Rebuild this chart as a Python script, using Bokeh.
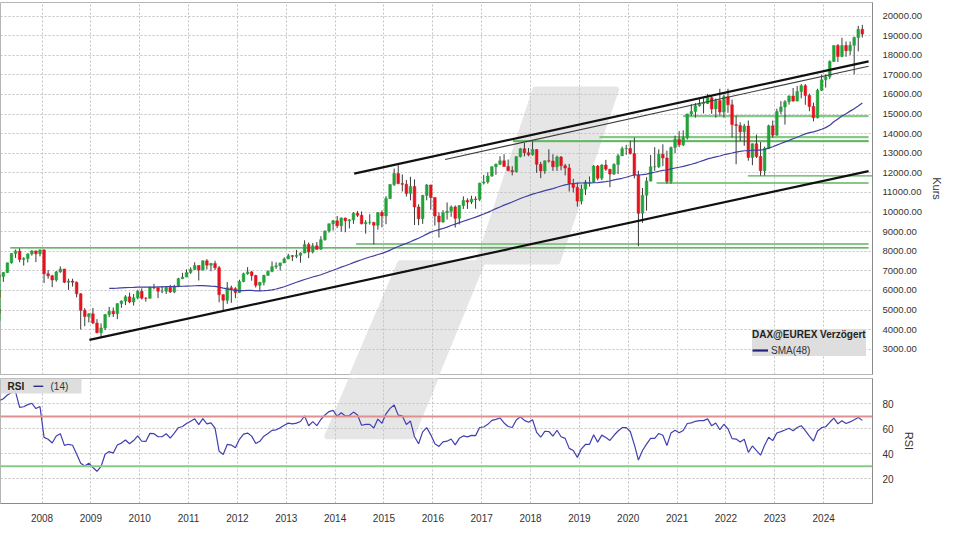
import numpy as np
import pandas as pd
from bokeh.plotting import figure
from bokeh.layouts import column
from bokeh.models import (Range1d, FixedTicker, PrintfTickFormatter, Span,
                          Legend, LegendItem, ColumnDataSource, Label,
                          BoxAnnotation)
from bokeh.embed import file_html
from bokeh.resources import INLINE

# ---------------- data (monthly DAX, from June 2005) ----------------
START_YEAR, START_MONTH = 2005, 6
FIRST_OPEN = 4460

close = [
    4587, 4886, 4829, 5044, 4929, 5193, 5408,
    5674, 5797, 5970, 6009, 5692, 5683, 5682, 5859, 6004, 6269, 6309, 6597,
    6789, 6715, 6917, 7409, 7883, 8007, 7584, 7638, 7862, 8019, 7871, 8067,
    6851, 6748, 6535, 6949, 7097, 6418, 6479, 6422, 5831, 4988, 4670, 4810,
    4338, 3844, 4085, 4770, 4941, 4809, 5332, 5458, 5675, 5414, 5626, 5957,
    5608, 5598, 6154, 6136, 5964, 5966, 6148, 5925, 6229, 6601, 6688, 6914,
    7077, 7272, 7041, 7514, 7294, 7376, 7159, 5785, 5502, 6141, 6089, 5898,
    6458, 6856, 6947, 6761, 6264, 6416, 6772, 6971, 7216, 7260, 7406, 7612,
    7776, 7741, 7795, 7914, 8349, 7959, 8276, 8103, 8594, 9033, 9406, 9552,
    9306, 9692, 9556, 9603, 9943, 9833, 9407, 9470, 9474, 9327, 9980, 9806,
    10694, 11402, 11966, 11454, 11413, 10945, 11309, 10259, 9660, 10850, 11382, 10743,
    9798, 9495, 9966, 10039, 10263, 9680, 10337, 10593, 10511, 10665, 10640, 11481,
    11535, 11834, 12313, 12438, 12615, 12325, 12118, 12056, 12829, 13230, 13024, 12918,
    13189, 12436, 12097, 12612, 12605, 12306, 12806, 12364, 12247, 11448, 11257, 10559,
    11173, 11516, 11526, 12344, 11727, 12399, 12189, 11939, 12428, 12867, 13236, 13249,
    12982, 11890, 9936, 10862, 11587, 12311, 12313, 12945, 12761, 11556, 13291, 13719,
    13433, 13786, 15008, 15136, 15421, 15531, 15544, 15835, 15261, 15688, 15100, 15885,
    15471, 14461, 14415, 14098, 14388, 12784, 13484, 12835, 12114, 13253, 14397, 13924,
    15128, 15365, 15629, 15922, 15664, 16148, 16447, 15947, 15387, 14810, 16215, 16752,
    16904, 17678, 18492, 17932, 18498, 18235, 18509, 18907, 19325, 19078,
]
high = [
    4640, 4900, 4960, 5080, 5140, 5230, 5460,
    5700, 5850, 6000, 6140, 6170, 5800, 5740, 5900, 6050, 6290, 6440, 6640,
    6810, 7040, 6950, 7420, 7900, 8090, 8150, 7700, 7900, 8060, 8040, 8100,
    8100, 7050, 6800, 7000, 7230, 7100, 6600, 6600, 6460, 5860, 5100, 4840,
    5110, 4540, 4320, 4800, 5160, 5130, 5340, 5500, 5760, 5890, 5820, 6030,
    6110, 5660, 6200, 6340, 6170, 6230, 6200, 6290, 6290, 6650, 6900, 7080,
    7180, 7440, 7280, 7530, 7600, 7410, 7520, 7250, 5800, 6430, 6250, 6170,
    6550, 6910, 7190, 7000, 6800, 6440, 6800, 7030, 7480, 7440, 7420, 7690,
    7870, 7810, 8070, 7950, 8560, 8450, 8420, 8470, 8770, 9070, 9410, 9600,
    9800, 9730, 9720, 9640, 10000, 10050, 10030, 9590, 9890, 9500, 10000, 10090,
    10810, 11420, 12220, 12390, 11920, 11640, 11800, 11670, 10400, 10880, 11430, 11400,
    10750, 9990, 10100, 10490, 10340, 10340, 10350, 10800, 10700, 10830, 10800, 11490,
    11890, 12030, 12330, 12480, 12850, 12950, 12680, 12340, 12830, 13270, 13530, 13270,
    13600, 13210, 12560, 12630, 13200, 12950, 12880, 12860, 12460, 12460, 11700, 11500,
    11400, 11630, 11820, 12400, 12400, 12440, 12660, 12200, 12490, 12960, 13340, 13430,
    13640, 13800, 12110, 11230, 11780, 12910, 13310, 13200, 13460, 13130, 13340, 13900,
    14130, 14170, 15010, 15500, 15560, 15800, 15810, 16030, 15950, 15790, 16290, 16000,
    16290, 15740, 14920, 14580, 14500, 14670, 13500, 13950, 13570, 13340, 14460, 14670,
    15270, 15660, 15710, 15950, 16330, 16430, 16530, 16530, 16040, 15580, 16290, 17000,
    17020, 17740, 18500, 18570, 18890, 18700, 18700, 18950, 19500, 19550,
]
low = [
    4420, 4560, 4740, 4800, 4800, 4900, 5180,
    5400, 5600, 5730, 5900, 5560, 5240, 5420, 5580, 5800, 5960, 6180, 6260,
    6540, 6620, 6440, 6900, 7370, 7660, 7440, 7270, 7430, 7780, 7450, 7740,
    6380, 6600, 6170, 6450, 6900, 6380, 6030, 6200, 5650, 4010, 4180, 4370,
    4290, 3820, 3590, 3980, 4640, 4650, 4540, 5120, 5260, 5350, 5230, 5550,
    5540, 5430, 5590, 6060, 5610, 5860, 5820, 5880, 5860, 6170, 6580, 6680,
    6850, 7050, 6510, 7020, 7070, 6980, 7040, 5400, 4970, 5320, 5370, 5610,
    5880, 6420, 6800, 6500, 6150, 5970, 6260, 6750, 6930, 7100, 7020, 7400,
    7600, 7500, 7650, 7420, 7900, 7650, 7890, 8070, 8080, 8540, 8950, 9060,
    9180, 9000, 8970, 9170, 9400, 9750, 9370, 8900, 9360, 8350, 9100, 9220,
    9380, 10660, 11330, 11420, 11050, 10790, 10600, 9340, 9330, 9400, 10600, 10120,
    9310, 8700, 9450, 9620, 9760, 9210, 9370, 10160, 10160, 10410, 10170, 10560,
    11410, 11450, 11800, 11900, 12400, 12320, 12080, 11870, 12020, 12790, 12840, 12850,
    12880, 12000, 11730, 11950, 12520, 12100, 12100, 12130, 11870, 11050, 11000, 10280,
    10390, 10870, 11300, 11500, 11620, 11630, 12100, 11270, 11890, 11940, 12860, 12920,
    12940, 11720, 8260, 9450, 10070, 11560, 12100, 12250, 12340, 11450, 11450, 13000,
    13310, 13370, 13700, 14900, 14820, 15380, 15030, 15510, 15010, 14820, 14930, 14820,
    15060, 13800, 12440, 13620, 13380, 12620, 12390, 12760, 11860, 11860, 13210, 13790,
    13900, 15000, 14460, 15480, 15630, 15650, 15800, 15470, 15140, 14630, 14780, 16170,
    16350, 16780, 17660, 17650, 17900, 17920, 18000, 17020, 18200, 18900,
]

year_ticks = list(range(2008, 2025))
price_ticks = list(range(3000, 20001, 1000))
rsi_ticks = [20, 40, 60, 80]
rsi_levels = [70, 30]
SMA_LEN, RSI_LEN = 48, 14

# drawn trend channel lines (year, price)
trend_x0 = [2008.97, 2014.39, 2016.25]
trend_y0 = [3479, 11958, 12684]
trend_x1 = [2024.92, 2024.92, 2024.92]
trend_y1 = [12091, 17689, 17442]

# horizontal support / resistance lines
hline_y = [8173, 8371, 13623, 13820, 14892, 11844, 11483]
hline_x0 = [2007.35, 2014.43, 2017.64, 2019.41, 2021.12, 2022.45, 2020.58]
hline_x1 = [2024.92, 2024.92, 2024.92, 2024.92, 2024.92, 2025.0, 2024.92]

# ---------------- derived ----------------
n = len(close)
t = np.array([START_YEAR + (START_MONTH - 1 + i + 0.5) / 12.0 for i in range(n)])
c = np.array(close, dtype=float)
o = np.concatenate([[FIRST_OPEN], c[:-1]])
h = np.maximum(np.array(high, dtype=float), np.maximum(o, c))
l = np.minimum(np.array(low, dtype=float), np.minimum(o, c))
up = c >= o
colors = np.where(up, "#22a33a", "#e3141e")

sma = pd.Series(c).rolling(SMA_LEN).mean().to_numpy()

d = np.diff(c)
gain = np.where(d > 0, d, 0.0)
loss = np.where(d < 0, -d, 0.0)
rsi = np.full(n, np.nan)
ag = gain[:RSI_LEN].mean()
al = loss[:RSI_LEN].mean()
rsi[RSI_LEN] = 100 - 100 / (1 + ag / al)
for i in range(RSI_LEN + 1, n):
    ag = (ag * (RSI_LEN - 1) + gain[i - 1]) / RSI_LEN
    al = (al * (RSI_LEN - 1) + loss[i - 1]) / RSI_LEN
    rsi[i] = 100 - 100 / (1 + ag / al)

candles = ColumnDataSource(dict(t=t, o=o, c=c, h=h, l=l,
                                top=np.maximum(o, c), bot=np.minimum(o, c),
                                color=colors))

FONT = "Liberation Sans"
TXT = "#333333"
GRID = "#c2c2c2"

x_range = Range1d(2007.15, 2025.0)

# ---------------- main price panel ----------------
p = figure(frame_width=872, frame_height=372, x_range=x_range,
           y_range=Range1d(1715, 20690), y_axis_location="right",
           output_backend="svg", toolbar_location=None,
           min_border_left=0, min_border_right=72, min_border_top=2,
           min_border_bottom=2, background_fill_color="white",
           outline_line_color="#b5b5b5")
p.xaxis.visible = False
p.xgrid.ticker = FixedTicker(ticks=year_ticks)
p.yaxis.ticker = FixedTicker(ticks=price_ticks)
p.yaxis.formatter = PrintfTickFormatter(format="%.2f")
for g in (p.xgrid, p.ygrid):
    g.grid_line_color = GRID
    g.grid_line_dash = "2 2"
ax = p.yaxis[0]
ax.axis_label = "Kurs"
ax.axis_label_text_font = FONT
ax.axis_label_text_font_size = "11px"
ax.axis_label_text_font_style = "normal"
ax.axis_label_text_color = TXT
ax.axis_label_standoff = 6
ax.major_label_text_font = FONT
ax.major_label_text_font_size = "9.5px"
ax.major_label_text_color = TXT
ax.major_label_standoff = 4
ax.axis_line_color = "#8a8a8a"
ax.major_tick_line_color = None
ax.minor_tick_line_color = None

# watermark logo
wm_main_x = [[2016.94, 2018.10, 2019.75, 2018.55], [2015.33, 2017.00, 2015.95, 2014.23]]
wm_main_y = [[7483, 16251, 16251, 7483], [7384, 7384, 980, 980]]
p.patches(wm_main_x, wm_main_y, fill_color="#e6e6e6", line_color="#e6e6e6",
          line_width=6, line_join="round", level="image")

p.segment(hline_x0[:1], hline_y[:1], hline_x1[:1], hline_y[:1],
          line_color="#3c9c3c", line_width=1.3)
p.segment(hline_x0[1:5] + hline_x0[6:], hline_y[1:5] + hline_y[6:],
          hline_x1[1:5] + hline_x1[6:], hline_y[1:5] + hline_y[6:],
          line_color="#86c986", line_width=2.2)
p.segment(hline_x0[2:3] + hline_x0[5:6], hline_y[2:3] + hline_y[5:6],
          hline_x1[2:3] + hline_x1[5:6], hline_y[2:3] + hline_y[5:6],
          line_color="#5aae5a", line_width=1.3)

p.segment("t", "h", "t", "l", source=candles, line_color="#3a3a3a", line_width=1)
p.vbar(x="t", width=0.055, top="top", bottom="bot", source=candles,
       fill_color="color", line_color="color", line_width=0.5)

sma_r = p.line(t, sma, line_color="#4040a0", line_width=1.2)
# legend key line (its points lie before the visible range)
sma_key = p.line(t[:2], c[:2], line_color="#23237a", line_width=2.2)

p.segment(trend_x0[:2], trend_y0[:2], trend_x1[:2], trend_y1[:2],
          line_color="#111111", line_width=2.2)
p.segment(trend_x0[2:], trend_y0[2:], trend_x1[2:], trend_y1[2:],
          line_color="#3c3c3c", line_width=1.1)

leg = Legend(items=[LegendItem(label="SMA(48)", renderers=[sma_key])],
             title="DAX@EUREX Verzögert", location=(752, 18))
leg.title_text_font = FONT
leg.title_text_font_size = "10px"
leg.title_text_font_style = "bold"
leg.title_text_color = "#222222"
leg.label_text_font = FONT
leg.label_text_font_size = "10px"
leg.label_text_color = TXT
leg.background_fill_color = "#dcdcdc"
leg.background_fill_alpha = 0.95
leg.border_line_color = None
leg.padding = 7
leg.spacing = 0
leg.glyph_width = 16
leg.glyph_height = 12
leg.label_height = 12
leg.label_standoff = 3
leg.title_standoff = 4
leg.margin = 0
p.add_layout(leg)

# ---------------- RSI panel ----------------
RSI_FH = 125
r = figure(frame_width=872, frame_height=RSI_FH, x_range=x_range,
           y_range=Range1d(0, 100.5), y_axis_location="right",
           output_backend="svg", toolbar_location=None,
           min_border_left=0, min_border_right=72, min_border_top=2,
           min_border_bottom=0, background_fill_color="white",
           outline_line_color="#b5b5b5")
r.xaxis.ticker = FixedTicker(ticks=year_ticks)
r.xaxis.formatter = PrintfTickFormatter(format="%d")
r.yaxis.ticker = FixedTicker(ticks=rsi_ticks)
r.xgrid.ticker = FixedTicker(ticks=year_ticks)
for g in (r.xgrid, r.ygrid):
    g.grid_line_color = GRID
    g.grid_line_dash = "2 2"
for a in (r.xaxis[0], r.yaxis[0]):
    a.major_label_text_font = FONT
    a.major_label_text_color = TXT
    a.axis_line_color = "#8a8a8a"
    a.major_tick_line_color = None
    a.minor_tick_line_color = None
    a.major_label_standoff = 4
r.xaxis[0].major_label_text_font_size = "10px"
r.yaxis[0].major_label_text_font_size = "10px"
ry = r.yaxis[0]
ry.axis_label = "RSI"
ry.axis_label_text_font = FONT
ry.axis_label_text_font_size = "11px"
ry.axis_label_text_font_style = "normal"
ry.axis_label_text_color = TXT
ry.axis_label_standoff = 6

wm_rsi_x = [[2014.40, 2016.11, 2015.56, 2013.84]]
wm_rsi_y = [[106, 106, 54, 54]]
r.patches(wm_rsi_x, wm_rsi_y, fill_color="#e6e6e6", line_color="#e6e6e6",
          line_width=6, line_join="round", level="image")

r.add_layout(Span(location=rsi_levels[0], dimension="width",
                  line_color="#e09090", line_width=2))
r.add_layout(Span(location=rsi_levels[1], dimension="width",
                  line_color="#86cc86", line_width=2))
rsi_r = r.line(t, rsi, line_color="#4040b0", line_width=1.2)

# RSI legend box (top-left corner of the panel)
r.add_layout(BoxAnnotation(left=0, right=81, top=RSI_FH, bottom=RSI_FH - 15,
                           left_units="screen", right_units="screen",
                           top_units="screen", bottom_units="screen",
                           fill_color="#dcdcdc", fill_alpha=0.95,
                           line_color=None, level="overlay"))
r.add_layout(Label(x=7, y=RSI_FH - 7.5, x_units="screen", y_units="screen",
                   text="RSI", text_font=FONT, text_font_size="10px",
                   text_font_style="bold", text_color="#222222",
                   text_baseline="middle", level="overlay"))
r.add_layout(Label(x=33, y=RSI_FH - 7.5, x_units="screen", y_units="screen",
                   text="━━", text_font="DejaVu Sans", text_font_size="8px",
                   text_color="#2a2a8a", text_baseline="middle", level="overlay"))
r.add_layout(Label(x=50, y=RSI_FH - 7.5, x_units="screen", y_units="screen",
                   text="(14)", text_font=FONT, text_font_size="10px",
                   text_color=TXT, text_baseline="middle", level="overlay"))

layout = column(p, r, spacing=0)
open("out.html", "w").write(file_html(layout, INLINE))
